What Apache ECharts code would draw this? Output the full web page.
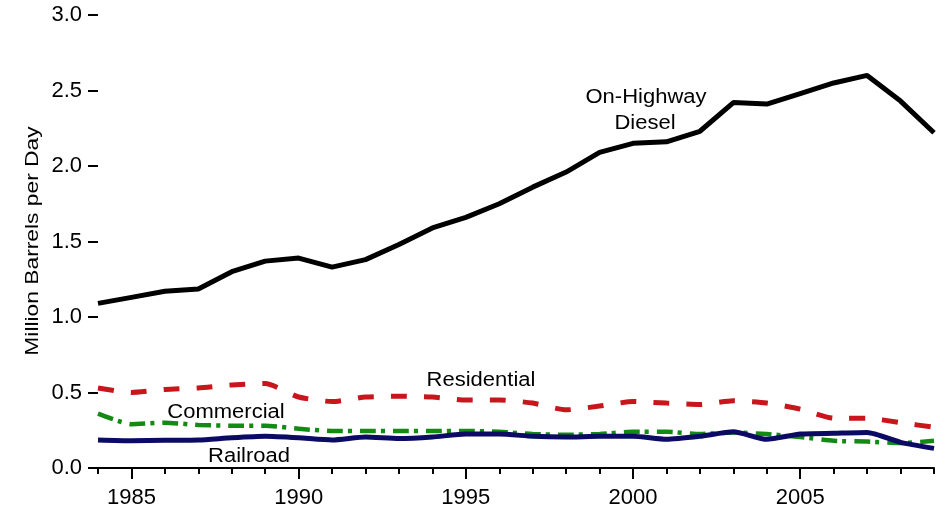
<!DOCTYPE html>
<html>
<head>
<meta charset="utf-8">
<script src="https://cdn.jsdelivr.net/npm/echarts@6/dist/echarts.min.js"></script>
<style>
  html, body { margin: 0; padding: 0; background: #fff; }
  #chart { width: 948px; height: 511px; }
</style>
</head>
<body>
<div id="chart"></div>
<script>
// years on the x axis
const years = [];
for (let y = 1984; y <= 2009; y++) years.push(String(y));

// million barrels per day
const highway = [1.09, 1.13, 1.17, 1.185, 1.30, 1.37, 1.39, 1.33, 1.38, 1.48, 1.59, 1.66, 1.75,
  1.86, 1.96, 2.09, 2.15, 2.16, 2.23, 2.42, 2.41, 2.48, 2.55, 2.60, 2.43, 2.22];
const residential = [0.53, 0.50, 0.52, 0.53, 0.55, 0.56, 0.47, 0.44, 0.47, 0.475, 0.47, 0.45, 0.45,
  0.43, 0.385, 0.41, 0.44, 0.43, 0.42, 0.445, 0.43, 0.39, 0.33, 0.33, 0.30, 0.27];
const commercial = [0.36, 0.29, 0.30, 0.285, 0.28, 0.28, 0.26, 0.245, 0.245, 0.245, 0.245, 0.245, 0.24,
  0.225, 0.22, 0.225, 0.24, 0.24, 0.225, 0.235, 0.225, 0.205, 0.18, 0.175, 0.165, 0.18];
const railroad = [0.185, 0.18, 0.183, 0.185, 0.20, 0.21, 0.20, 0.185, 0.205, 0.195, 0.205, 0.225, 0.225,
  0.21, 0.205, 0.21, 0.21, 0.19, 0.21, 0.24, 0.19, 0.225, 0.23, 0.235, 0.17, 0.13];

const font = "'Liberation Sans', Arial, sans-serif";
const chart = echarts.init(document.getElementById("chart"));

const isMajor = (i, v) => Number(v) % 5 === 0;

// the reference text is a bit wider than Liberation Sans, so stretch it a little
const label = (text, x, y, opts = {}) => ({
  type: "text",
  x: x,
  y: y,
  scaleX: opts.scaleX || 1.1,
  rotation: opts.rotation || 0,
  style: {
    text,
    fill: "#000",
    fontSize: opts.size || 20,
    fontFamily: font,
    align: "center",
    verticalAlign: "middle",
  },
});

const option = {
  animation: false,
  grid: { left: 98, right: 14, top: 15, bottom: 43, containLabel: false },
  xAxis: [
    {
      type: "category",
      data: years,
      boundaryGap: false,
      axisLine: { show: true, lineStyle: { color: "#000", width: 2 } },
      axisTick: { show: true, length: 6, interval: 0, lineStyle: { color: "#000", width: 2 } },
      axisLabel: { interval: isMajor, margin: 19, color: "#000", fontSize: 22, fontFamily: font },
      splitLine: { show: false },
    },
    {
      type: "category",
      data: years,
      boundaryGap: false,
      position: "bottom",
      axisLine: { show: false },
      axisTick: { show: true, length: 11, interval: isMajor, lineStyle: { color: "#000", width: 2 } },
      axisLabel: { show: false },
      splitLine: { show: false },
    },
  ],
  yAxis: {
    type: "value",
    min: 0,
    max: 3,
    interval: 0.5,
    axisLine: { show: false },
    axisTick: { show: true, length: 10, lineStyle: { color: "#000", width: 2 } },
    axisLabel: { color: "#000", fontSize: 22, fontFamily: font, margin: 16, formatter: (v) => v.toFixed(1) },
    splitLine: { show: false },
  },
  series: [
    {
      name: "Commercial",
      type: "line",
      data: commercial,
      symbol: "none",
      smooth: 0.2,
      lineStyle: { color: "#138a13", width: 4.5, type: [16, 5, 4, 8], cap: "butt" },
    },
    {
      name: "Residential",
      type: "line",
      data: residential,
      symbol: "none",
      smooth: 0.2,
      lineStyle: { color: "#c8161d", width: 5, type: [16, 17], cap: "butt" },
    },
    {
      name: "Railroad",
      type: "line",
      data: railroad,
      symbol: "none",
      smooth: 0.2,
      lineStyle: { color: "#0b0b63", width: 5 },
    },
    {
      name: "On-Highway Diesel",
      type: "line",
      data: highway,
      symbol: "none",
      lineStyle: { color: "#000", width: 5 },
    },
  ],
  graphic: [
    label("Million Barrels per Day", 33, 241, { size: 19, scaleX: 1.2, rotation: Math.PI / 2 }),
    label("On-Highway", 646, 97),
    label("Diesel", 645, 123),
    label("Residential", 481, 380),
    label("Commercial", 226, 412),
    label("Railroad", 249, 456),
  ],
};

chart.setOption(option);
</script>
</body>
</html>
